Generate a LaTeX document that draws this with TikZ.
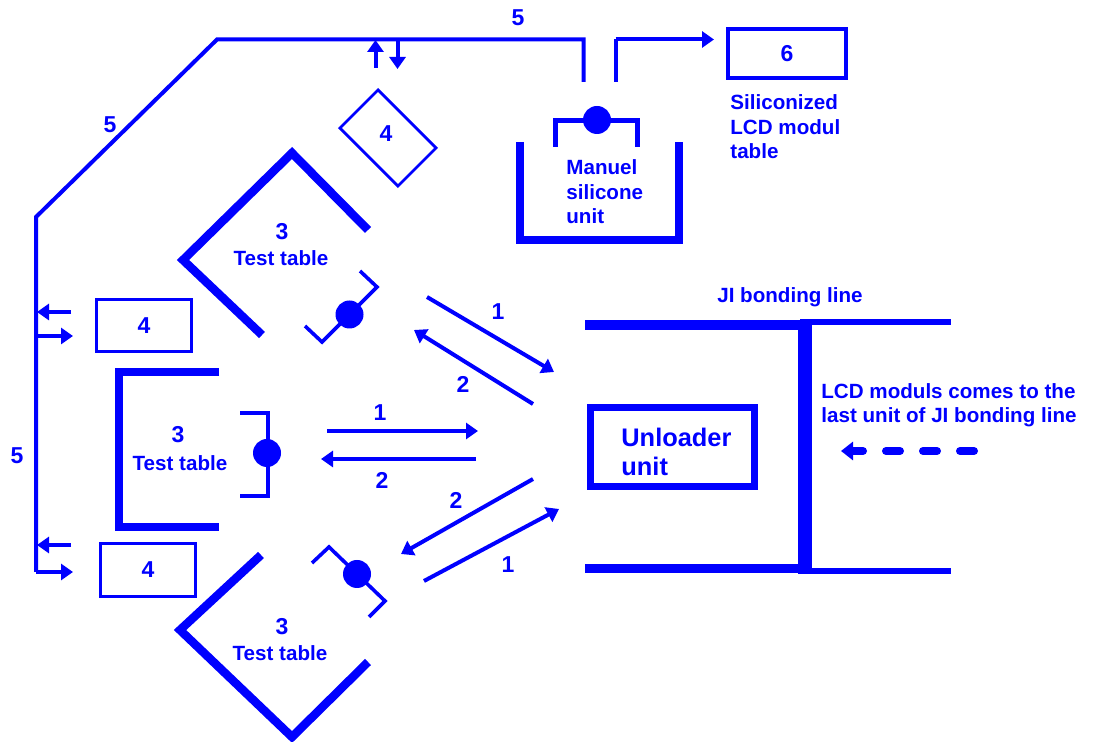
\documentclass[tikz,border=0pt]{standalone}
\usepackage{fontspec}
\setmainfont{Liberation Sans}
\usetikzlibrary{arrows.meta}
\definecolor{planblue}{RGB}{0,0,255}

\begin{document}
\begin{tikzpicture}[x=0.5pt,y=-0.5pt,
  every node/.style={text=planblue,inner sep=0pt},
  txt/.style={font=\bfseries\fontsize{10.3}{12.2}\selectfont,align=left},
  num/.style={font=\bfseries\fontsize{11.5}{13}\selectfont},
  wall/.style={draw=planblue,line width=4.25pt},
  grip/.style={draw=planblue,line width=1.8pt},
  flow/.style={draw=planblue,line width=2pt,-{Triangle[length=6pt,width=8pt]}},
  loopline/.style={draw=planblue,line width=2pt},
  box/.style={draw=planblue,line width=1.6pt,num}
]
\useasboundingbox (0,0) rectangle (1093,742);

% transfer line 5
\coordinate (l1) at (36,572);
\coordinate (l2) at (36,217);
\coordinate (l3) at (217,39.5);
\coordinate (l4) at (583.5,39.5);
\coordinate (l5) at (583.5,82);
\draw[loopline] (l1) -- (l2) -- (l3) -- (l4) -- (l5);
\draw[loopline] (615.5,82) -- (615.5,39.5);
\draw[flow] (615.5,39.5) -- (714,39.5);
\node[num] (n5a) at (110,125) {5};
\node[num] (n5b) at (518,18) {5};
\node[num] (n5c) at (17,456) {5};

% buffer tables 4
\node[box,minimum width=47.5pt,minimum height=26pt] (t4a) at (144,325.5) {4};
\node[box,minimum width=47.5pt,minimum height=26.5pt] (t4b) at (148,570) {4};
\node[box,line width=1.4pt,minimum width=41pt,minimum height=27pt,rotate=-45] (t4c) at (388,138) {};
\node[num] (t4ct) at (386,134) {4};
\draw[flow] (71,312) -- (37,312);
\draw[flow] (36,336) -- (73,336);
\draw[flow] (71,545) -- (37,545);
\draw[flow] (36,572) -- (73,572);
\draw[flow] (375.5,68) -- (375.5,40);
\draw[flow] (397.5,41) -- (397.5,69);

% table 6
\node[box,line width=2pt,minimum width=59pt,minimum height=24.5pt] (t6) at (787,53.5) {6};
\node[txt,anchor=west] (t6txt) at (730,127) {Siliconized\\LCD modul\\table};

% manual silicone unit
\draw[wall,line width=4.4pt] (520,142) -- (520,240) -- (679,240) -- (679,142);
\draw[grip,line width=2.5pt] (555.5,147) -- (555.5,121) -- (637,121) -- (637,147);
\fill[planblue] (597,120) circle[radius=7pt];
\node[txt,anchor=west] (msu) at (566,192) {Manuel\\silicone\\unit};

% test tables 3
\draw[wall] (368,230) -- (292,153) -- (183,260) -- (262,335);
\draw[wall] (219,372) -- (119,372) -- (119,527) -- (219,527);
\draw[wall] (261,555) -- (180,630) -- (292,737) -- (368,662);
\node[num] (tt1n) at (282,232) {3};
\node[txt] (tt1) at (281,258) {Test table};
\node[num] (tt2n) at (178,435) {3};
\node[txt] (tt2) at (180,463) {Test table};
\node[num] (tt3n) at (282,627) {3};
\node[txt] (tt3) at (280,653) {Test table};

% grippers
\draw[grip] (360,271) -- (377,287) -- (322,342) -- (305,326);
\fill[planblue] (349.5,314.5) circle[radius=7pt];
\draw[grip] (240,413) -- (268,413) -- (268,496) -- (240,496);
\fill[planblue] (267,453) circle[radius=7pt];
\draw[grip] (312,563) -- (329,547) -- (385,601) -- (369,617);
\fill[planblue] (357,574) circle[radius=7pt];

% transfers 1 and 2
\draw[flow] (427,297) -- (554,372);
\node[num] (f1a) at (498,312) {1};
\draw[flow] (533,404) -- (414,330);
\node[num] (f2a) at (463,384) {2};
\draw[flow] (327,431) -- (478,431);
\node[num] (f1b) at (380,413) {1};
\draw[flow] (476,459) -- (321,459);
\node[num] (f2b) at (382,480) {2};
\draw[flow] (533,479) -- (401,554);
\node[num] (f2c) at (456,500) {2};
\draw[flow] (424,581) -- (559,509);
\node[num] (f1c) at (508,565) {1};

% JI bonding line
\draw[planblue,line width=5pt] (585,325) -- (800,325);
\draw[planblue,line width=3pt] (800,322.5) -- (951,322.5);
\draw[planblue,line width=4.75pt] (585,568.5) -- (800,568.5);
\draw[planblue,line width=3pt] (800,571) -- (951,571);
\draw[planblue,line width=7.3pt] (805,322) -- (805,574);
\node[txt] (jil) at (790,297) {JI bonding line};
\node[draw=planblue,line width=3.5pt,minimum width=82pt,minimum height=39.5pt] (unl) at (672.5,447) {};
\node[anchor=west,align=left,font=\bfseries\fontsize{12.7}{14.5}\selectfont] (unltxt) at (621,452) {Unloader\\unit};
\node[txt,anchor=west] (lcd) at (821,405) {LCD moduls comes to the\\last unit of JI bonding line};
\draw[planblue,line width=4pt,line cap=round,dash pattern=on 7pt off 11.5pt,-{Triangle[length=6pt,width=9pt]}] (974,451) -- (841,451);
\end{tikzpicture}
\end{document}
